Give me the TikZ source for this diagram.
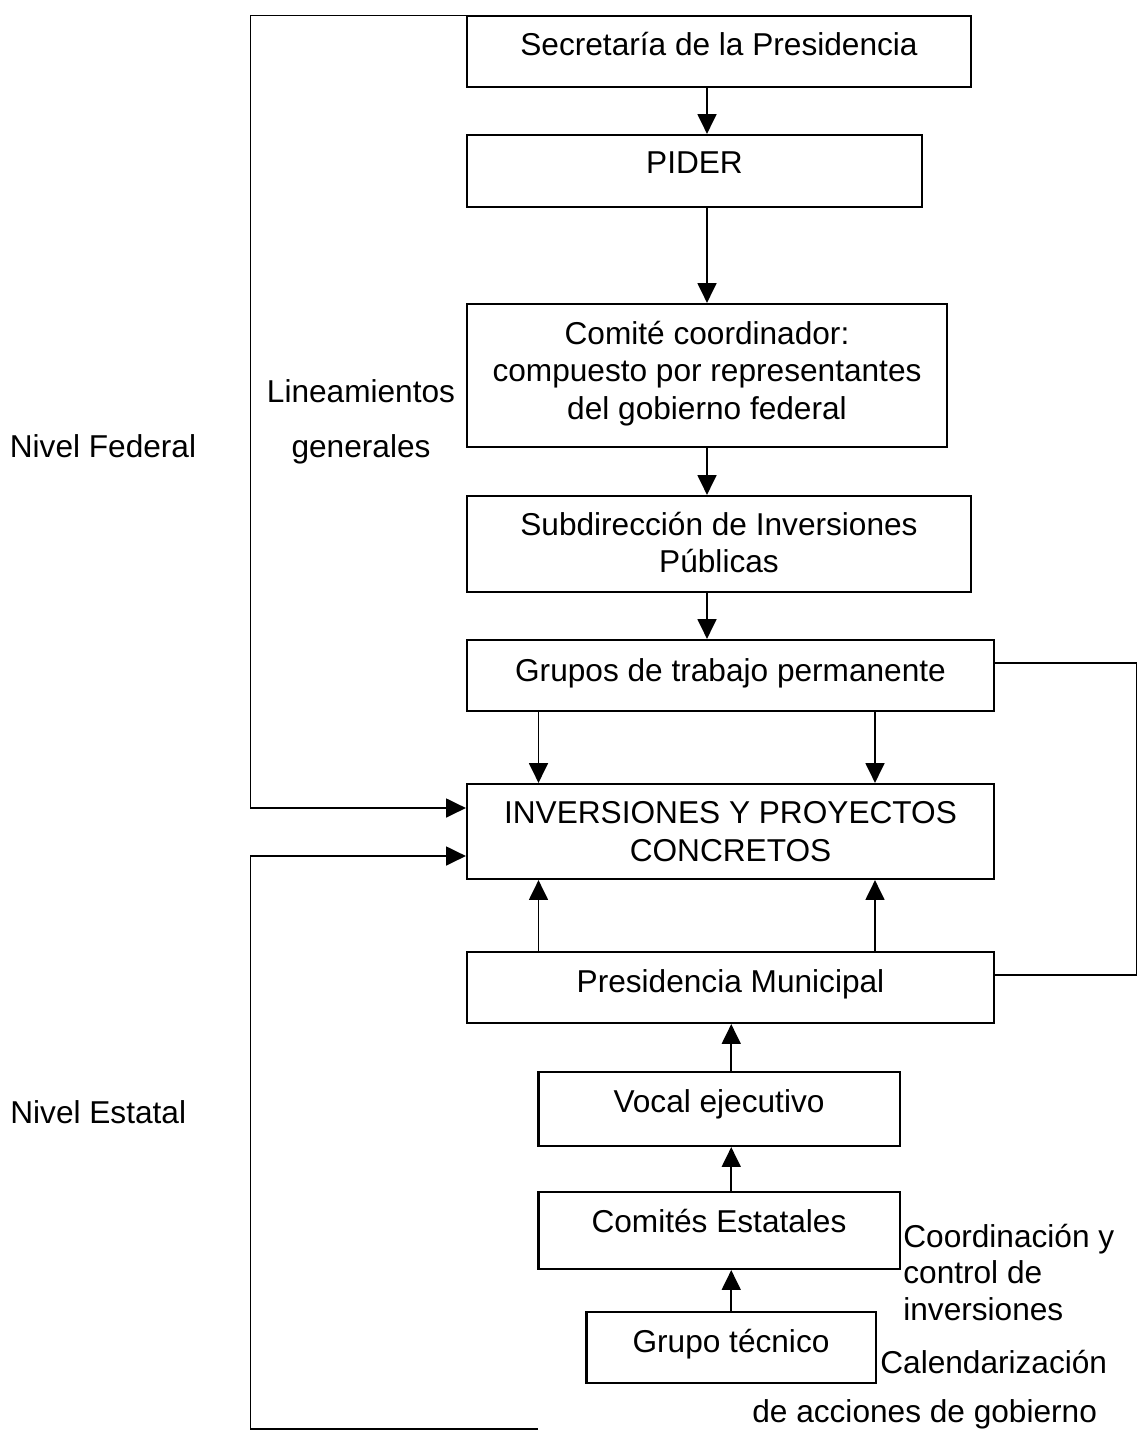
\documentclass[tikz,border=0pt]{standalone}
\usepackage{fontspec}
\setmainfont{Liberation Sans}
\usetikzlibrary{arrows.meta,fit}
\newcommand\tst{\rule{0pt}{0.6cm}}
\begin{document}
\begin{tikzpicture}[x=0.02cm,y=-0.02cm,
  box/.style={draw, line width=1.25pt, inner sep=0pt},
  txt/.style={inner sep=0pt, anchor=north, align=center, font=\fontsize{18}{21.4}\selectfont},
  ltxt/.style={inner sep=0pt, anchor=north west, align=left, font=\fontsize{18}{20.7}\selectfont},
  conn/.style={line width=1pt},
  arr/.style={conn, -{Triangle[width=10.8pt,length=11.3pt]}}]
\fill[white] (0,0) rectangle (1138,1431);
\useasboundingbox (0,0) rectangle (1138,1431);

% boxes
\node[box, fit={(467,16) (971,87)}] (sec) {};
\node[box, fit={(467,135) (922,207)}] (pider) {};
\node[box, fit={(467,304) (947,447)}] (comite) {};
\node[box, fit={(467,496) (971,592)}] (subd) {};
\node[box, fit={(467,640) (994,711)}] (grupos) {};
\node[box, fit={(467,784) (994,879)}] (inv) {};
\node[box, fit={(467,952) (994,1023)}] (pres) {};
\node[box, fit={(538.5,1072) (900,1146)}] (vocal) {};
\node[box, fit={(538.5,1192) (900,1269)}] (comest) {};
\node[box, fit={(586.5,1312) (876,1383)}] (grupot) {};

% box texts
\node[txt] (tsec) at (719,25) {\tst Secretaría de la Presidencia};
\node[txt] (tpider) at (694.5,143.5) {\tst PIDER};
\node[txt] (tcomite) at (707,314) {\tst Comité coordinador:\\compuesto por representantes\\del gobierno federal};
\node[txt] (tsubd) at (719,505) {\tst Subdirección de Inversiones\\Públicas};
\node[txt] (tgrupos) at (730.5,651) {\tst Grupos de trabajo permanente};
\node[txt] (tinv) at (730.5,793.5) {\tst INVERSIONES Y PROYECTOS\\CONCRETOS};
\node[txt] (tpres) at (730.5,962) {\tst Presidencia Municipal};
\node[txt] (tvocal) at (719,1082) {\tst Vocal ejecutivo};
\node[txt] (tcomest) at (719,1202) {\tst Comités Estatales};
\node[txt] (tgrupot) at (731,1322) {\tst Grupo técnico};

% free labels
\node[txt, font=\fontsize{18}{31.2}\selectfont] (tlin) at (361,372) {\tst Lineamientos\\generales};
\node[ltxt] (tfed) at (9.5,427) {\tst Nivel Federal};
\node[ltxt] (test) at (10,1093) {\tst Nivel Estatal};
\node[ltxt] (tcoord) at (903,1217) {\tst Coordinación y\\control de\\inversiones};
\node[ltxt] (tcal) at (880,1343) {\tst Calendarización};
\node[ltxt] (tacc) at (752,1392) {\tst de acciones de gobierno};

% helper coordinates
\coordinate (cl) at (538.5,0);
\coordinate (cr) at (875,0);
\coordinate (tl) at (538,15.5);
\coordinate (lx1) at (250.5,808);
\coordinate (bl) at (538,1429);
\coordinate (lx2) at (250.5,856);
\coordinate (rt) at (1136.5,663);
\coordinate (rb) at (1136.5,975);

% vertical chain (federal)
\draw[arr] (sec.south -| comite) -- (pider.north -| comite);
\draw[arr] (pider.south -| comite) -- (comite.north);
\draw[arr] (comite.south) -- (subd.north -| comite);
\draw[arr] (subd.south -| comite) -- (grupos.north -| comite);
\draw[arr] (grupos.south -| cl) -- (inv.north -| cl);
\draw[arr] (grupos.south -| cr) -- (inv.north -| cr);

% vertical chain (estatal)
\draw[arr] (pres.north -| cl) -- (inv.south -| cl);
\draw[arr] (pres.north -| cr) -- (inv.south -| cr);
\draw[arr] (vocal.north -| grupot) -- (pres.south -| grupot);
\draw[arr] (comest.north -| grupot) -- (vocal.south -| grupot);
\draw[arr] (grupot.north) -- (comest.south -| grupot);

% side connectors
\draw[arr] (tl) -| (lx1) -- (inv.west |- lx1);
\draw[arr] (bl) -| (lx2) -- (inv.west |- lx2);
\draw[conn] (grupos.east |- rt) -- (rt) -- (rb) -- (pres.east |- rb);
\end{tikzpicture}
\end{document}
